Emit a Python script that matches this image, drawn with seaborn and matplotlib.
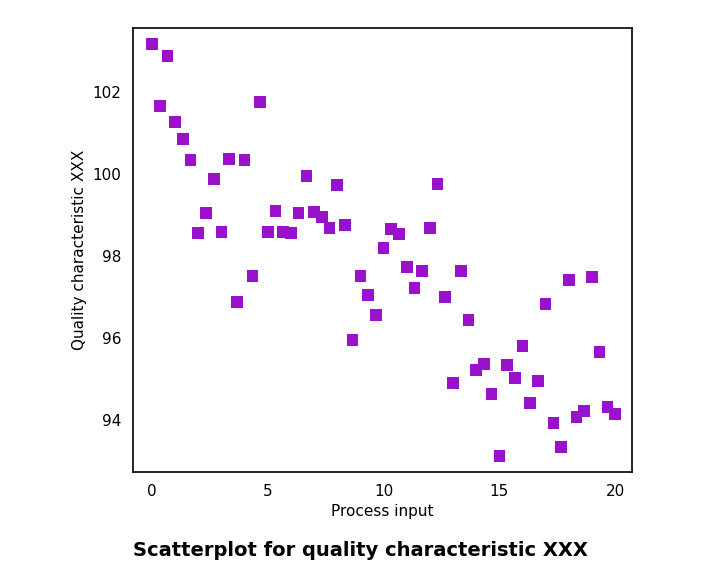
import numpy as np
import pandas as pd
import seaborn as sns
import matplotlib.pyplot as plt

# values (x steps of 1/3 from 0 to 20)
process_input = [i / 3 for i in range(61)]
quality = [103.17, 101.66, 102.88, 101.27, 100.85, 100.34, 98.56, 99.05, 99.88, 98.59,
           100.37, 96.88, 100.34, 97.51, 101.76, 98.59, 99.10, 98.59, 98.56, 99.05,
           99.95, 99.07, 98.95, 98.68, 99.73, 98.76, 95.95, 97.51, 97.05, 96.56,
           98.20, 98.66, 98.54, 97.73, 97.22, 97.63, 98.68, 99.76, 97.00, 94.90,
           97.63, 96.44, 95.22, 95.37, 94.63, 93.12, 95.34, 95.02, 95.80, 94.41,
           94.95, 96.83, 93.93, 93.34, 97.41, 94.07, 94.22, 97.49, 95.66, 94.32,
           94.15]

df = pd.DataFrame({'x': process_input, 'y': quality})

sns.set_style('white')
fig = plt.figure(figsize=(7.2, 5.83), dpi=100)
ax = fig.add_axes([133/720, 1 - 472/583, 499/720, 444/583])

sns.scatterplot(data=df, x='x', y='y', marker='s', s=70, color='#9a11cc',
                edgecolor='none', ax=ax)

ax.set_xlim(-0.82, 20.73)
ax.set_ylim(92.73, 103.56)
ax.set_xticks([0, 5, 10, 15, 20])
ax.set_yticks([94, 96, 98, 100, 102])
ax.tick_params(direction='out', length=5, labelsize=11, colors='black')
ax.set_xlabel('Process input', fontsize=11, color='black')
ax.set_ylabel('Quality characteristic XXX', fontsize=11, color='black')
for sp in ax.spines.values():
    sp.set_color('black')
    sp.set_linewidth(1.2)

fig.text(0.5, 1 - 550/583, 'Scatterplot for quality characteristic XXX',
         ha='center', va='center', fontsize=14, fontweight='bold', color='black')

fig.savefig('out.png', dpi=100)
